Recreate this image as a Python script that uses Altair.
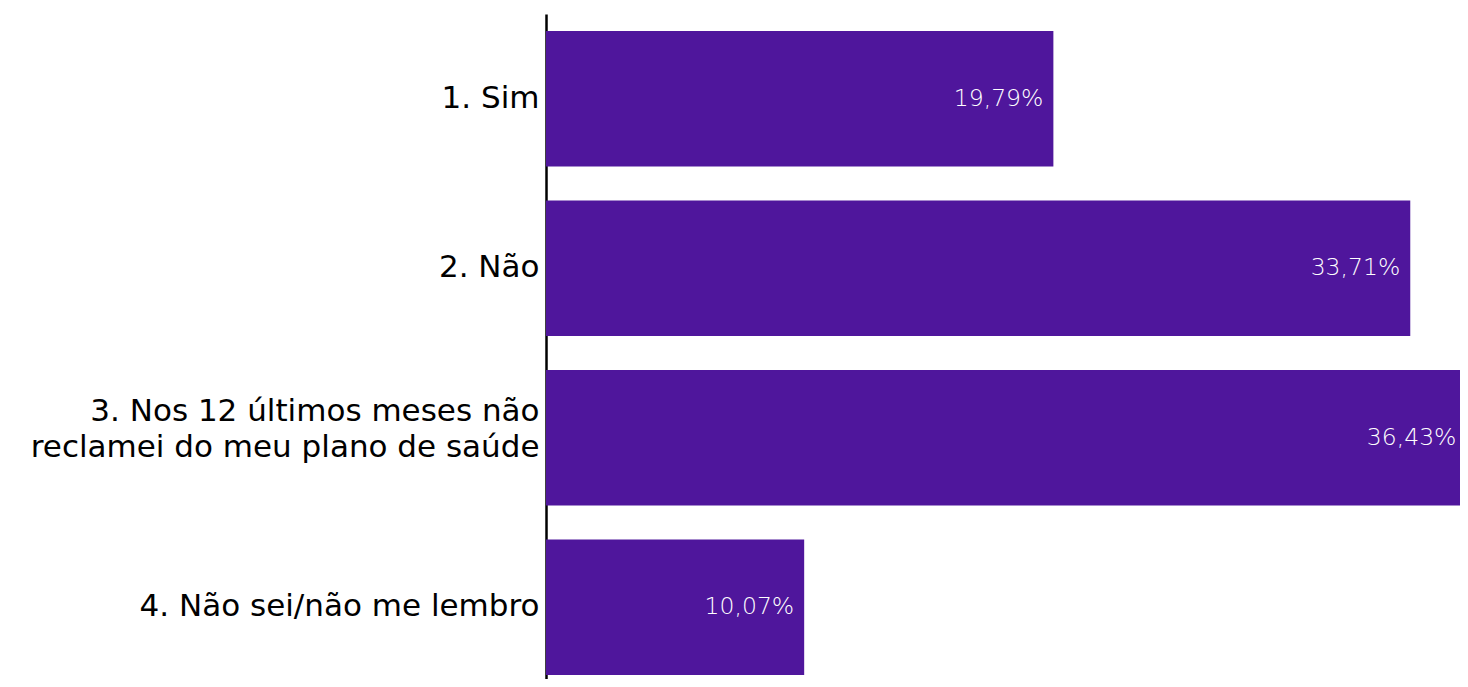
import altair as alt
import pandas as pd

categories = ["1. Sim", "2. Não", "3. Nos 12 últimos meses não|reclamei do meu plano de saúde", "4. Não sei/não me lembro"]
values = [19.79, 33.71, 36.43, 10.07]

df = pd.DataFrame({"cat": categories, "val": values})
df["lbl"] = [f"{v:.2f}".replace(".", ",") + "%" for v in values]

FONT = "DejaVu Sans"
color = "#4F169C"

base = alt.Chart(df).encode(
    y=alt.Y("cat:N", sort=categories,
            scale=alt.Scale(paddingInner=0.2, paddingOuter=0.1, range=[0, 678]),
            axis=alt.Axis(title=None, ticks=False, domainColor="#000000", domainWidth=2.5,
                          labelFont=FONT, labelFontSize=31, labelColor="#000000",
                          labelPadding=7, labelLimit=600, labelLineHeight=36,
                          labelOffset={"condition": {"test": "indexof(datum.label, '|') >= 0", "value": -26},
                                       "value": 0},
                          labelExpr="split(datum.label, '|')")),
)

xscale = alt.Scale(domain=[0, 36.43], nice=False, zero=True, range=[0, 934])

bars = base.mark_bar(color=color).encode(x=alt.X("val:Q", scale=xscale, axis=None))
text = base.mark_text(align="right", baseline="middle", dx=-10, color="#FFFFFF",
                      font=FONT, fontSize=23.5, fontWeight=200).transform_calculate(
    lx="min(datum.val, 35.9)"
).encode(x=alt.X("lx:Q", scale=xscale, axis=None), text="lbl:N")

chart = (bars + text).properties(
    width=914, height=665,
    autosize=alt.AutoSizeParams(type="none"),
    padding={"left": 538, "top": 6, "right": 0, "bottom": 0},
).configure_view(stroke=None)

chart.save("out.html", embed_options={"renderer": "svg", "actions": False})
